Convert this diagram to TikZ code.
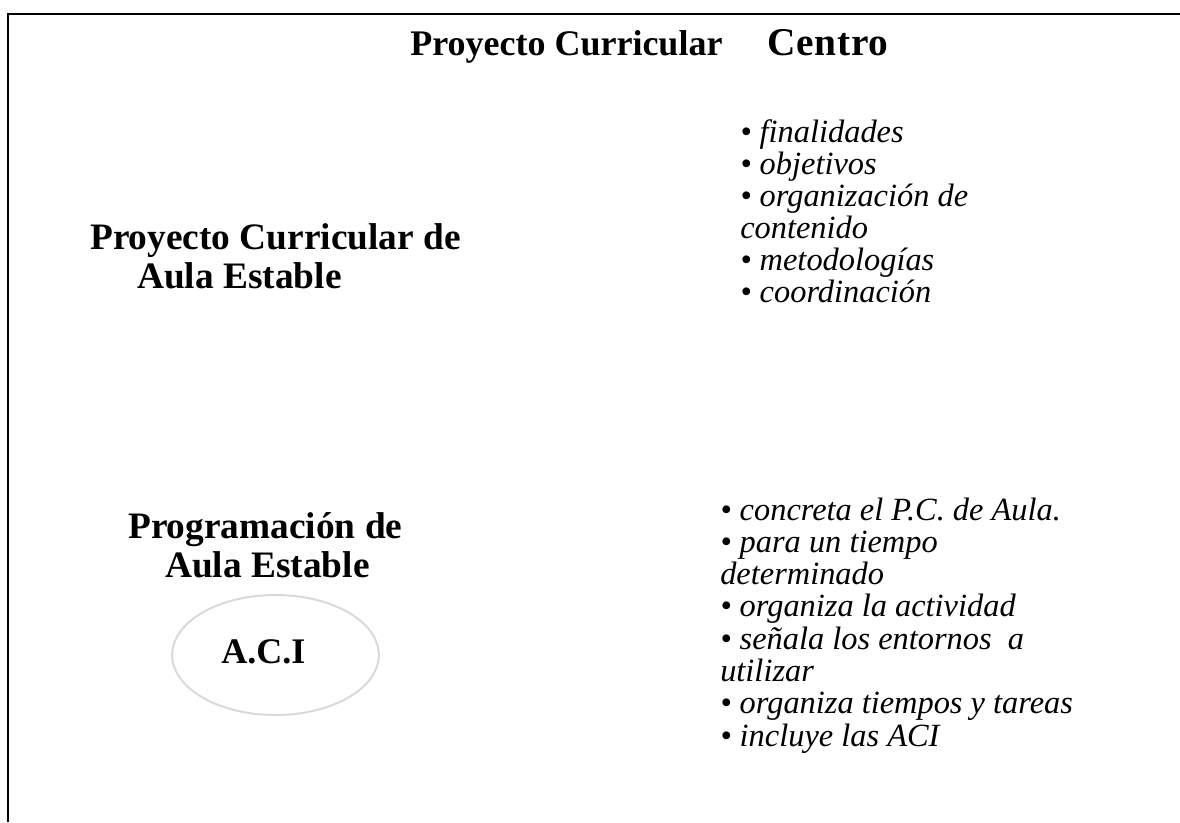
\documentclass[tikz,border=0pt]{standalone}
\usepackage{fontspec}
\setmainfont{Liberation Serif}
\usepackage{xcolor}
\usepackage{tikz}
\usetikzlibrary{shapes.geometric}

\definecolor{ovalgray}{HTML}{D9D9D9}

\begin{document}
\begin{tikzpicture}[x=0.75pt,y=-0.75pt,
  head/.style={anchor=base west,inner sep=0pt,font=\fontsize{28}{33}\selectfont\bfseries},
  item/.style={anchor=base west,inner sep=0pt,font=\fontsize{24.3}{29}\selectfont\itshape}]
\useasboundingbox (0,0) rectangle (1180,822);

% frame (only top and left edges show)
\draw[line width=2pt] (8,822) -- (8,14) -- (1180,14);

\node[head,font=\fontsize{27}{33}\selectfont\bfseries] (pcc) at (410,55) {Proyecto Curricular};
\node[head,font=\fontsize{29.5}{33}\selectfont\bfseries\addfontfeatures{LetterSpace=2}]
  (centro) at (767,55) {Centro};

\node[head] (pca1) at (90,249) {Proyecto Curricular de};
\node[head] (pca2) at (137,288) {Aula Estable};

\node[head] (pa1) at (128,538) {Programación de};
\node[head] (pa2) at (165,577) {Aula Estable};

\node[ellipse,draw=ovalgray,line width=1.5pt,minimum width=155pt,minimum height=90pt,
  inner sep=0pt] (oval) at (275.5,655) {};
\node[head,font=\fontsize{27}{33}\selectfont\bfseries] (aci) at (221,663) {A.C.I};

% lists
\foreach \t [count=\i] in {• finalidades, • objetivos, • organización de, contenido,
  • metodologías, • coordinación}
  \node[item] (fin\i) at (740,{142+32*(\i-1)}) {\t};

\foreach \t [count=\i] in {• concreta el P.C. de Aula., • para un tiempo, determinado,
  • organiza la actividad, • señala los entornos\ \ a, utilizar,
  • organiza tiempos y tareas, • incluye las ACI}
  \node[item] (prog\i) at (720,{520+32.3*(\i-1)}) {\t};
\end{tikzpicture}
\end{document}
